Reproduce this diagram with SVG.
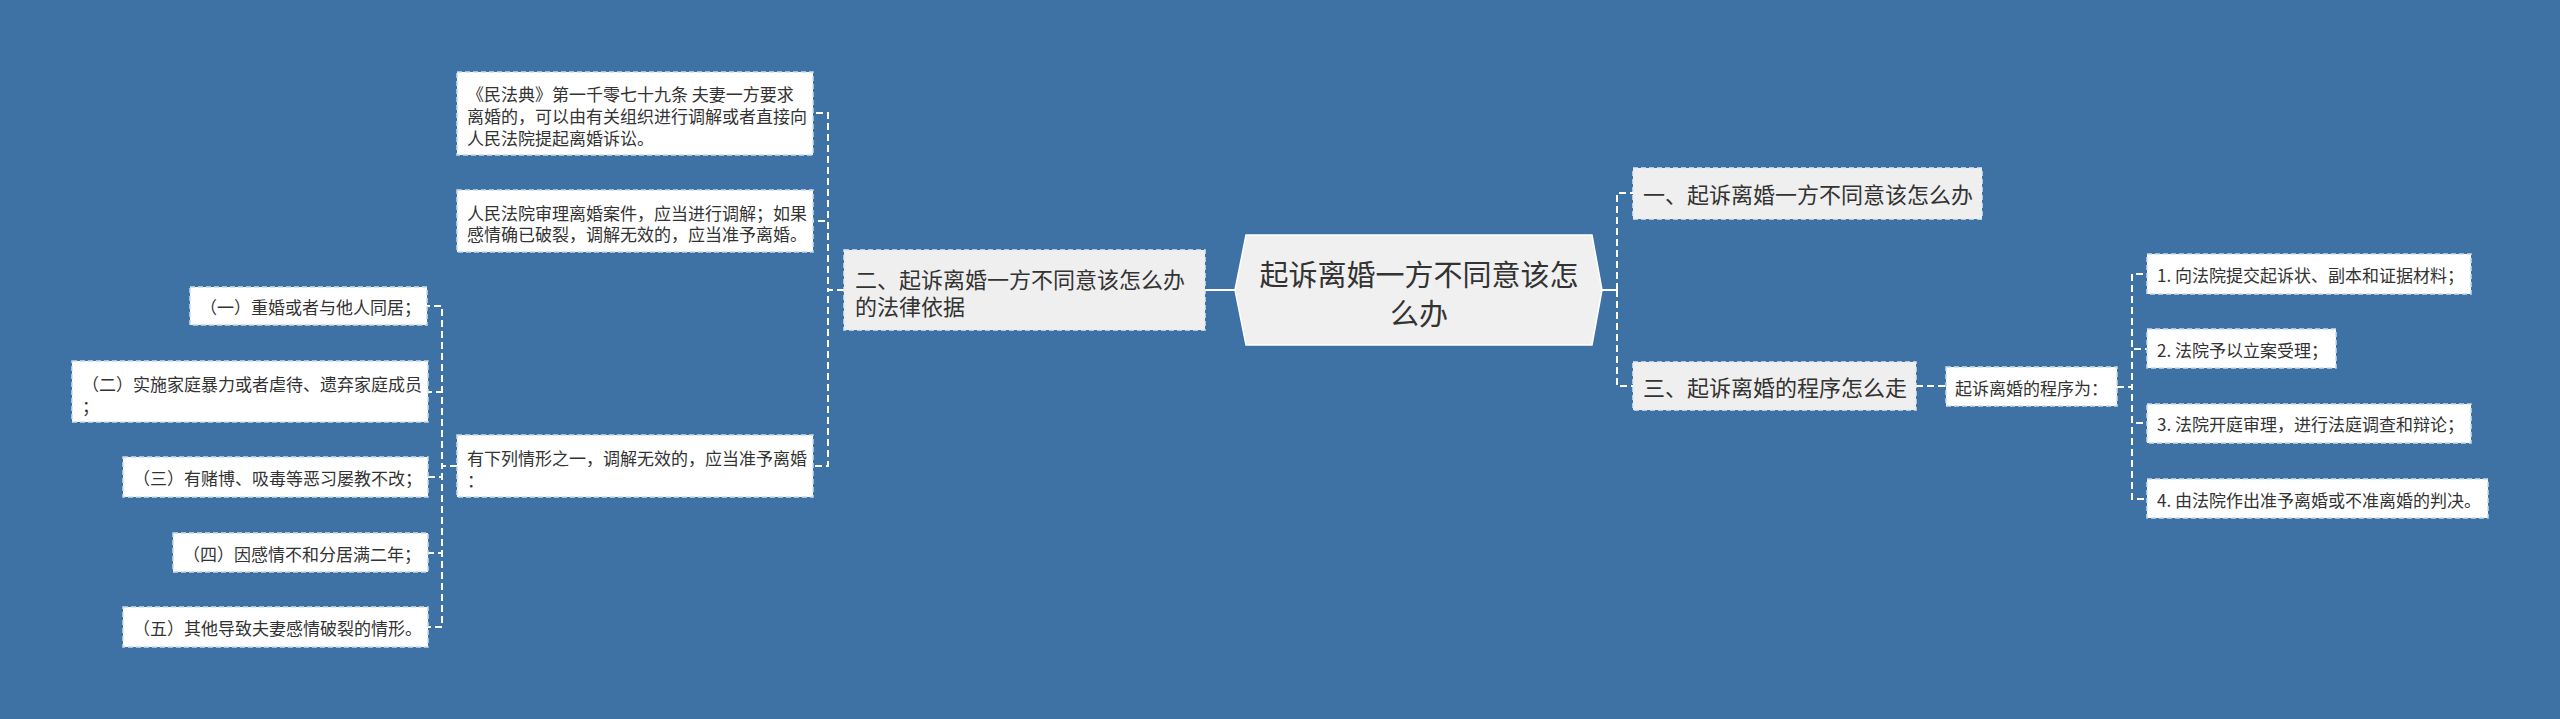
<svg xmlns="http://www.w3.org/2000/svg" width="2560" height="719" viewBox="0 0 2560 719">
<style>
text{font-family:"Noto Sans CJK SC","Microsoft YaHei",sans-serif;fill:#333;dominant-baseline:central}
.l1{fill:#efefef;stroke:#dfe9f3;stroke-width:1.5;stroke-dasharray:5 3}
.lf{fill:#ffffff;stroke:#c9dbee;stroke-width:1.5;stroke-dasharray:5 3}
.t22{font-size:22px}
.t17{font-size:17px}
.cn{fill:none;stroke:#ffffff;stroke-width:2;stroke-dasharray:7 4}
.cs{fill:none;stroke:#ffffff;stroke-width:2}
</style>
<rect x="0" y="0" width="2560" height="719" fill="#3e72a5"/>
<g id="connectors">
<path class="cs" d="M1235,290 H1205"/>
<path class="cn" d="M844,290 H828 V113 H813"/>
<path class="cn" d="M844,290 H828 V221 H813"/>
<path class="cn" d="M844,290 H828 V466 H813"/>
<path class="cn" d="M457,466 H442 V306 H427"/>
<path class="cn" d="M457,466 H442 V392 H428"/>
<path class="cn" d="M457,466 H442 V477 H428"/>
<path class="cn" d="M457,466 H442 V553 H428"/>
<path class="cn" d="M457,466 H442 V627 H428"/>
<path class="cs" d="M1602,290 H1617"/>
<path class="cn" d="M1617,290 V193 H1633"/>
<path class="cn" d="M1617,290 V386 H1633"/>
<path class="cn" d="M1916,386 H1946"/>
<path class="cn" d="M2117,387 H2132 V274 H2147"/>
<path class="cn" d="M2117,387 H2132 V349 H2147"/>
<path class="cn" d="M2117,387 H2132 V423 H2147"/>
<path class="cn" d="M2117,387 H2132 V499 H2147"/>
</g>
<g id="center">
<polygon points="1235,290 1246,235 1592,235 1602,290 1592,345 1246,345" fill="#f0f0f0" stroke="#ffffff" stroke-width="1.5"/>
<text x="1419" y="273" font-size="29" text-anchor="middle">起诉离婚一方不同意该怎</text>
<text x="1419" y="312" font-size="29" text-anchor="middle">么办</text>
</g>
<g id="n1">
<rect class="l1" x="1633" y="168" width="349" height="51"/>
<text class="t22" x="1643" y="193">一、起诉离婚一方不同意该怎么办</text>
</g>
<g id="n2">
<rect class="l1" x="844" y="250" width="361" height="80"/>
<text class="t22" x="855" y="278">二、起诉离婚一方不同意该怎么办</text>
<text class="t22" x="855" y="305">的法律依据</text>
</g>
<g id="n3">
<rect class="l1" x="1633" y="362" width="283" height="48"/>
<text class="t22" x="1643" y="386">三、起诉离婚的程序怎么走</text>
</g>
<g id="p">
<rect class="lf" x="1946" y="367" width="171" height="39"/>
<text class="t17" x="1955" y="387">起诉离婚的程序为：</text>
</g>
<g id="s1">
<rect class="lf" x="2147" y="254" width="324" height="40"/>
<text class="t17" x="2157" y="274">1. 向法院提交起诉状、副本和证据材料；</text>
</g>
<g id="s2">
<rect class="lf" x="2147" y="329" width="189" height="39"/>
<text class="t17" x="2157" y="349">2. 法院予以立案受理；</text>
</g>
<g id="s3">
<rect class="lf" x="2147" y="404" width="324" height="39"/>
<text class="t17" x="2157" y="423">3. 法院开庭审理，进行法庭调查和辩论；</text>
</g>
<g id="s4">
<rect class="lf" x="2147" y="479" width="341" height="39"/>
<text class="t17" x="2157" y="499">4. 由法院作出准予离婚或不准离婚的判决。</text>
</g>
<g id="b1">
<rect class="lf" x="457" y="72" width="356" height="83"/>
<text class="t17" x="467" y="93">《民法典》第一千零七十九条 夫妻一方要求</text>
<text class="t17" x="467" y="115">离婚的，可以由有关组织进行调解或者直接向</text>
<text class="t17" x="467" y="137">人民法院提起离婚诉讼。</text>
</g>
<g id="b2">
<rect class="lf" x="457" y="190" width="356" height="62"/>
<text class="t17" x="467" y="212">人民法院审理离婚案件，应当进行调解；如果</text>
<text class="t17" x="467" y="233">感情确已破裂，调解无效的，应当准予离婚。</text>
</g>
<g id="b3">
<rect class="lf" x="457" y="435" width="356" height="62"/>
<text class="t17" x="467" y="457">有下列情形之一，调解无效的，应当准予离婚</text>
<text class="t17" x="467" y="479">：</text>
</g>
<g id="c1">
<rect class="lf" x="190" y="287" width="237" height="38"/>
<text class="t17" x="200" y="306">（一）重婚或者与他人同居；</text>
</g>
<g id="c2">
<rect class="lf" x="72" y="361" width="356" height="61"/>
<text class="t17" x="82" y="383">（二）实施家庭暴力或者虐待、遗弃家庭成员</text>
<text class="t17" x="82" y="405">；</text>
</g>
<g id="c3">
<rect class="lf" x="123" y="457" width="305" height="40"/>
<text class="t17" x="133" y="477">（三）有赌博、吸毒等恶习屡教不改；</text>
</g>
<g id="c4">
<rect class="lf" x="173" y="533" width="255" height="39"/>
<text class="t17" x="183" y="553">（四）因感情不和分居满二年；</text>
</g>
<g id="c5">
<rect class="lf" x="123" y="607" width="305" height="40"/>
<text class="t17" x="133" y="627">（五）其他导致夫妻感情破裂的情形。</text>
</g>
</svg>
